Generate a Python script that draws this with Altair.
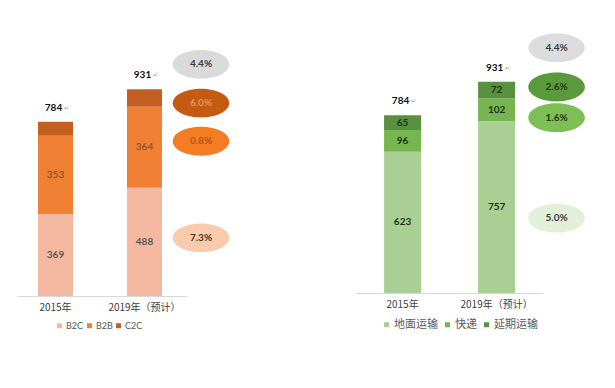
import altair as alt
import pandas as pd

# ---------------- data ----------------
years = ["2015年", "2019年（预计）"]

left_cats = ["B2C", "B2B", "C2C"]
left_2015 = [369, 353, 63]
left_2019 = [488, 364, 79]
left_totals = [784, 931]
left_growth = ["4.4%", "6.0%", "0.8%", "7.3%"]      # total, C2C, B2B, B2C

right_cats = ["地面运输", "快递", "延期运输"]
right_2015 = [623, 96, 65]
right_2019 = [757, 102, 72]
right_totals = [784, 931]
right_growth = ["4.4%", "2.6%", "1.6%", "5.0%"]     # total, 延期运输, 快递, 地面运输

# ---------------- styles ----------------
left_colors = ["#F4B8A0", "#EE7F33", "#C55F1F"]
left_label_colors = ["#4d4d4d", "#8f5030", "#b0662e"]
left_ell_fill = ["#DADADA", "#C55A11", "#F47C22", "#F8CBAD"]
left_ell_text = ["#3a3a3a", "#E8955A", "#B4561E", "#4a3326"]
left_ell_nudge = [-25, 5, -6, -4]

right_colors = ["#A9CF95", "#77B550", "#5A9140"]
right_label_colors = ["#1E3312", "#1E3312", "#1E3312"]
right_ell_fill = ["#DCDCDC", "#5B9A3C", "#7DBE55", "#E2EFD9"]
right_ell_text = ["#3a3a3a", "#1F3A10", "#1F3A10", "#3a3a3a"]
right_ell_nudge = [-34, -3, 8, 11]

NUM_FONT = "Lato"
CJK_FONT = "Noto Sans CJK SC"

k = 0.5523
ry = 0.51
ELLIPSE = (f"M-1,0 C-1,{-k*ry:.4f} {-k:.4f},{-ry} 0,{-ry} "
           f"C{k:.4f},{-ry} 1,{-k*ry:.4f} 1,0 "
           f"C1,{k*ry:.4f} {k:.4f},{ry} 0,{ry} "
           f"C{-k:.4f},{ry} -1,{k*ry:.4f} -1,0 Z")


def stack_df(cats, v15, v19):
    rows = []
    for yr, vals in zip(years, [v15, v19]):
        base = 0
        for i, (c, v) in enumerate(zip(cats, vals)):
            rows.append(dict(year=yr, cat=c, idx=i, value=v,
                             y0=base, y1=base + v, mid=base + v / 2))
            base += v
    return pd.DataFrame(rows)


def panel(cats, v15, v19, totals, growth, colors, label_colors,
          ell_fill, ell_text, ell_nudge, width, height, ymax,
          p_inner, p_outer, align, ell_dx, legend_x, legend_y,
          legend_font, legend_size, legend_sym, legend_colpad, tick_font_size,
          label_weight):
    df = stack_df(cats, v15, v19)
    tot = pd.DataFrame({"year": years, "total": totals})

    # ellipse positions: total on top, then 2019 segments from top to bottom
    d19 = df[df.year == years[1]].sort_values("idx", ascending=False)
    ell = pd.DataFrame({
        "year": [years[1]] * 4,
        "pos": [totals[1]] + list(d19["mid"]),
        "label": growth,
    })

    x = alt.X("year:N", sort=years,
              scale=alt.Scale(domain=years, paddingInner=p_inner,
                              paddingOuter=p_outer, align=align, round=False),
              axis=alt.Axis(title=None, labelAngle=0, ticks=False, grid=False,
                            domainColor="#D9D9D9", domainWidth=1,
                            labelFont=CJK_FONT, labelFontSize=tick_font_size,
                            labelColor="#404040", labelPadding=6))
    yscale = alt.Scale(domain=[0, ymax], nice=False, zero=True)

    bars = alt.Chart(df).mark_bar().encode(
        x=x,
        y=alt.Y("y1:Q", scale=yscale, axis=None),
        y2="y0:Q",
        color=alt.Color("cat:N",
                        scale=alt.Scale(domain=cats, range=colors),
                        legend=alt.Legend(
                            title=None, orient="none", direction="horizontal",
                            legendX=legend_x, legendY=legend_y,
                            symbolType="square", symbolSize=legend_sym,
                            symbolStrokeWidth=0, labelFont=legend_font,
                            labelFontSize=legend_size, labelColor="#595959",
                            labelOffset=2, columnPadding=legend_colpad,
                            padding=0)),
    )

    layers = [bars]
    for i, c in enumerate(cats):
        layers.append(
            alt.Chart(df[df.cat == c]).mark_text(
                font=NUM_FONT, fontSize=10, fontWeight=label_weight,
                color=label_colors[i], baseline="middle").encode(
                x=x, y=alt.Y("mid:Q", scale=yscale, axis=None),
                text="value:Q"))

    layers.append(
        alt.Chart(tot).mark_text(font=NUM_FONT, fontSize=10, fontWeight="bold",
                                 color="#111111", baseline="middle", dy=-14,
                                 dx=-2).encode(
            x=x, y=alt.Y("total:Q", scale=yscale, axis=None),
            text="total:Q"))
    layers.append(
        alt.Chart(tot).mark_text(text="↵", font="DejaVu Sans", fontSize=6,
                                 color="#9a9a9a", baseline="middle", dy=-14,
                                 dx=11).encode(
            x=x, y=alt.Y("total:Q", scale=yscale, axis=None)))

    for i in range(4):
        row = ell.iloc[[i]]
        layers.append(
            alt.Chart(row).mark_point(shape=ELLIPSE, size=3200, filled=True,
                                      fill=ell_fill[i], opacity=1,
                                      strokeWidth=0, xOffset=ell_dx,
                                      yOffset=ell_nudge[i]).encode(
                x=x, y=alt.Y("pos:Q", scale=yscale, axis=None)))
        layers.append(
            alt.Chart(row).mark_text(font=NUM_FONT, fontSize=10,
                                     fontWeight="bold", color=ell_text[i],
                                     baseline="middle", dx=ell_dx,
                                     dy=ell_nudge[i]).encode(
                x=x, y=alt.Y("pos:Q", scale=yscale, axis=None),
                text="label:N"))

    return alt.layer(*layers).properties(width=width, height=height)


T = 28
left = panel(left_cats, left_2015, left_2019, left_totals, left_growth,
             left_colors, left_label_colors, left_ell_fill, left_ell_text,
             left_ell_nudge, width=170, height=295 - T, ymax=(295 - T) / 0.222,
             p_inner=0.607, p_outer=0.2587, align=0.4565, ell_dx=56.5,
             legend_x=38, legend_y=292, legend_font=NUM_FONT, legend_size=9,
             legend_sym=25, legend_colpad=1, tick_font_size=10,
             label_weight=600)

right = panel(right_cats, right_2015, right_2019, right_totals, right_growth,
              right_colors, right_label_colors, right_ell_fill, right_ell_text,
              right_ell_nudge, width=188, height=292 - T,
              ymax=(292 - T) / 0.2268,
              p_inner=0.6064, p_outer=0.303, align=0.51, ell_dx=60,
              legend_x=26, legend_y=290, legend_font=CJK_FONT, legend_size=11,
              legend_sym=25, legend_colpad=4, tick_font_size=10,
              label_weight="bold")

chart = alt.hconcat(left, right, spacing=168, bounds="flush").resolve_scale(
    x="independent", y="independent", color="independent"
).properties(
    padding={"left": 9, "top": 21, "right": 0, "bottom": 0},
    background="white"
).configure_view(strokeWidth=0)

chart.save("out.html", embed_options={"renderer": "svg", "actions": False})
